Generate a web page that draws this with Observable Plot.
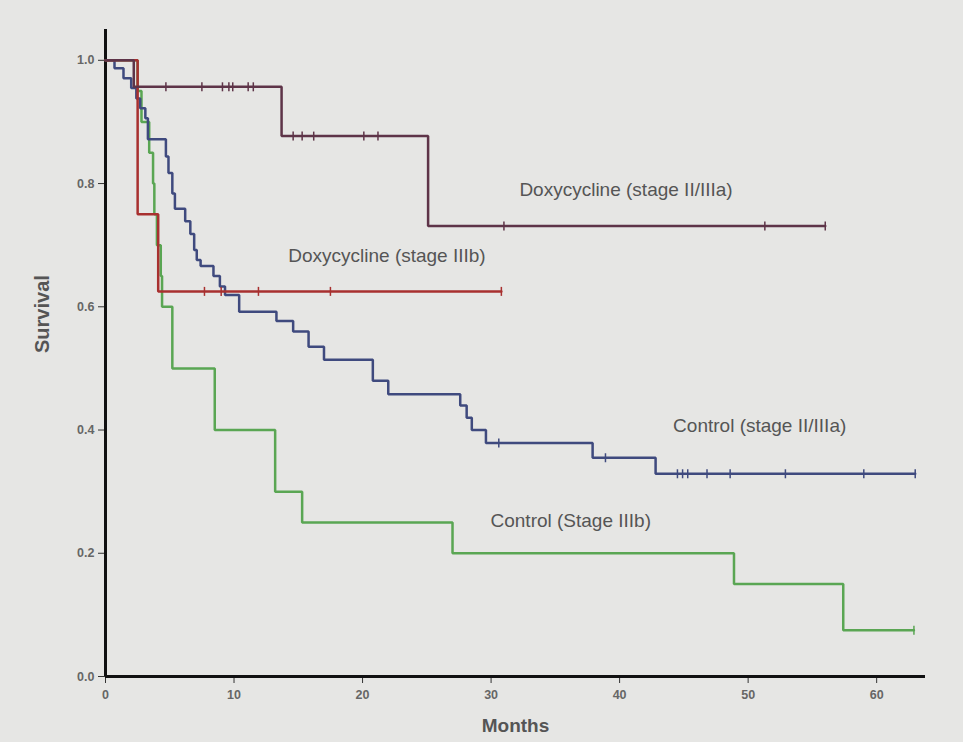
<!DOCTYPE html>
<html>
<head>
<meta charset="utf-8">
<script src="https://cdn.jsdelivr.net/npm/d3@7"></script>
<script src="https://cdn.jsdelivr.net/npm/@observablehq/plot@0.6"></script>
<style>
  html, body { margin: 0; padding: 0; background: #e6e6e4; }
  #chart svg { display: block; }
</style>
</head>
<body>
<div id="chart"></div>
<script>
// ---------- data ----------
const seriesNames = [
  "Control (Stage IIIb)",
  "Control (stage II/IIIa)",
  "Doxycycline (stage IIIb)",
  "Doxycycline (stage II/IIIa)"
];

// Control (Stage IIIb)
const ctrlLateMonths = [0, 2.5, 2.8, 3.4, 3.7, 3.8, 4.0, 4.3, 4.4, 5.2, 8.5, 13.2, 15.3, 27.0, 48.9, 57.4, 62.9];
const ctrlLateSurv   = [1, 0.95, 0.9, 0.85, 0.8, 0.75, 0.7, 0.65, 0.6, 0.5, 0.4, 0.3, 0.25, 0.2, 0.15, 0.075, 0.075];
const ctrlLateCensor = [62.9];

// Control (stage II/IIIa)
const ctrlEarlyMonths = [0, 0.7, 1.4, 2.0, 2.4, 2.7, 3.1, 3.3, 4.7, 4.9, 5.2, 5.4, 6.2, 6.6, 6.9, 7.1, 7.4,
  8.4, 8.9, 9.3, 10.4, 13.3, 14.6, 15.8, 17.0, 20.8, 22.0, 27.6, 28.1, 28.5, 29.6, 37.9, 42.8, 63.0];
const ctrlEarlySurv = [1, 0.987, 0.971, 0.955, 0.938, 0.922, 0.906, 0.872, 0.844, 0.817, 0.784, 0.759, 0.739,
  0.718, 0.692, 0.676, 0.666, 0.650, 0.633, 0.619, 0.592, 0.577, 0.560, 0.535, 0.514, 0.480, 0.458, 0.440,
  0.420, 0.400, 0.379, 0.355, 0.329, 0.329];
const ctrlEarlyCensor = [30.6, 38.9, 44.5, 44.9, 45.3, 46.8, 48.6, 52.9, 59.0, 63.0];

// Doxycycline (stage IIIb)
const doxyLateMonths = [0, 2.5, 4.1, 30.8];
const doxyLateSurv   = [1, 0.75, 0.625, 0.625];
const doxyLateCensor = [7.7, 9.0, 11.9, 17.5, 30.8];

// Doxycycline (stage II/IIIa)
const doxyEarlyMonths = [0, 2.2, 13.7, 25.1, 56.0];
const doxyEarlySurv   = [1, 0.957, 0.877, 0.731, 0.731];
const doxyEarlyCensor = [4.7, 7.5, 9.1, 9.6, 9.9, 11.1, 11.5, 14.6, 15.3, 16.2, 20.1, 21.2, 31.0, 51.3, 56.0];

// axis ticks
const xTicks = [0, 10, 20, 30, 40, 50, 60];
const yTicks = [0, 0.2, 0.4, 0.6, 0.8, 1.0];

// in-plot labels (anchor in data units)
const labelMonth = [36.2, 50.9, 21.9, 40.5];
const labelSurv  = [0.252, 0.407, 0.682, 0.789];

// ---------- styles ----------
const seriesColors = ["#5aa653", "#3f4a7e", "#a8302f", "#5e3448"];

// ---------- build tables ----------
const monthsBy = [ctrlLateMonths, ctrlEarlyMonths, doxyLateMonths, doxyEarlyMonths];
const survBy   = [ctrlLateSurv, ctrlEarlySurv, doxyLateSurv, doxyEarlySurv];
const censBy   = [ctrlLateCensor, ctrlEarlyCensor, doxyLateCensor, doxyEarlyCensor];

const lineRows = [];
seriesNames.forEach((name, i) => {
  monthsBy[i].forEach((t, j) => lineRows.push({group: name, t, s: survBy[i][j]}));
});

// survival at a censoring time = level of the step curve at that time
function survAt(i, t) {
  const ts = monthsBy[i], ss = survBy[i];
  let v = ss[0];
  for (let j = 0; j < ts.length; j++) if (ts[j] <= t) v = ss[j];
  return v;
}
const censorRows = [];
seriesNames.forEach((name, i) => {
  censBy[i].forEach(t => censorRows.push({group: name, t, s: survAt(i, t)}));
});

const labelRows = seriesNames.map((name, i) => ({name, t: labelMonth[i], s: labelSurv[i]}));

// vertical bar symbol for censor marks
const vbar = {
  draw(context, size) {
    const h = Math.sqrt(size / Math.PI);
    context.moveTo(0, -h);
    context.lineTo(0, h);
  }
};

const font = "'Liberation Sans', Arial, Helvetica, sans-serif";

const chart = Plot.plot({
  width: 963,
  height: 742,
  marginLeft: 105,
  marginRight: 38,
  marginTop: 29,
  marginBottom: 66,
  style: {background: "transparent", fontFamily: font},
  x: {domain: [0, 63.8]},
  y: {domain: [0, 1.05]},
  color: {domain: seriesNames, range: seriesColors},
  marks: [
    Plot.axisY({ticks: yTicks, tickFormat: d3.format(".1f"), tickSize: 7, tickPadding: 4,
      fontSize: 12.5, fontWeight: "bold", stroke: "#333", fill: "#666", label: null}),
    Plot.axisX({ticks: xTicks, tickSize: 7, tickPadding: 7,
      fontSize: 12.5, fontWeight: "bold", stroke: "#333", fill: "#666", label: null}),
    Plot.ruleX([0], {stroke: "#111", strokeWidth: 3}),
    Plot.ruleY([0], {stroke: "#111", strokeWidth: 3}),
    Plot.line(lineRows, {x: "t", y: "s", z: "group", stroke: "group", curve: "step-after",
      strokeWidth: 2.5, strokeLinejoin: "miter"}),
    Plot.dot(censorRows, {x: "t", y: "s", stroke: "group", symbol: vbar, r: 4.5, strokeWidth: 1.5}),
    Plot.text(labelRows, {x: "t", y: "s", text: "name", fill: "#555", fontSize: 19}),
    Plot.text(["Survival"], {frameAnchor: "left", rotate: -90, dx: -63, fill: "#555",
      fontSize: 20, fontWeight: "bold"}),
    Plot.text(["Months"], {frameAnchor: "bottom", dy: 55, fill: "#555",
      fontSize: 19, fontWeight: "bold"})
  ]
});

document.getElementById("chart").appendChild(chart);
</script>
</body>
</html>
